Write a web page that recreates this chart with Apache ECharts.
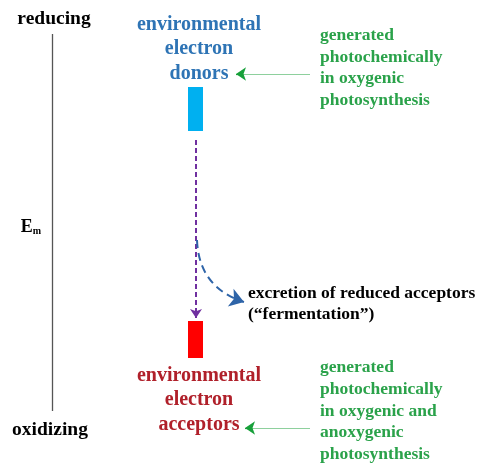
<!DOCTYPE html>
<html><head><meta charset="utf-8">
<script src="https://cdn.jsdelivr.net/npm/echarts@6/dist/echarts.min.js"></script>
<style>html,body{margin:0;padding:0;background:#fff}#c{width:481px;height:463px}</style>
</head><body><div id="c"></div>
<script>
// Diagram content (y = position on the E_m scale, reducing at top)
const boxNames = ['electron donors', 'electron acceptors'];
const boxTop = [87, 321];
const boxBottom = [131, 358];
const boxColors = ['#00b0f0', '#ff0000'];

const labelTexts = [
  'reducing',
  'oxidizing',
  'environmental\nelectron\ndonors',
  'environmental\nelectron\nacceptors',
  'generated\nphotochemically\nin oxygenic\nphotosynthesis',
  'generated\nphotochemically\nin oxygenic and\nanoxygenic\nphotosynthesis',
  'excretion of reduced acceptors\n(\u201cfermentation\u201d)'
];
const labelX = [54, 50, 199, 199, 320, 320, 248];
const labelY = [19, 430, 49, 400, 68, 411, 304];

const FAM = "'Times New Roman', 'Liberation Serif', 'DejaVu Serif', serif";
const labelStyles = [
  {size: 19.5, fill: '#000', align: 'center', lh: 24},
  {size: 19.5, fill: '#000', align: 'center', lh: 24},
  {size: 20, fill: '#2e74b5', align: 'center', lh: 24.5},
  {size: 20, fill: '#b0202a', align: 'center', lh: 24.5},
  {size: 17.5, fill: '#2aa24a', align: 'left', lh: 21.4},
  {size: 17.5, fill: '#2aa24a', align: 'left', lh: 21.7},
  {size: 17.5, fill: '#000', align: 'left', lh: 21}
];

const arrowFrom = [[52, 34], [196, 140], [310, 74], [310, 428], [197, 240], [243, 74], [252, 428]];
const arrowTo = [[52, 411], [196, 318], [240, 74], [249, 428], [244, 302], [236, 74], [245, 428]];

const chart = echarts.init(document.getElementById('c'), null, {renderer: 'canvas'});
chart.setOption({
  animation: false,
  grid: {left: 0, right: 0, top: 0, bottom: 0},
  xAxis: {type: 'value', min: 0, max: 481, show: false},
  yAxis: {type: 'value', min: 0, max: 463, inverse: true, show: false},
  series: [
    {
      type: 'custom',
      data: boxNames.map((n, i) => [188, boxTop[i], 203, boxBottom[i]]),
      renderItem: (params, api) => {
        const p1 = api.coord([api.value(0), api.value(1)]);
        const p2 = api.coord([api.value(2), api.value(3)]);
        return {type: 'rect', shape: {x: p1[0], y: p1[1], width: p2[0] - p1[0], height: p2[1] - p1[1]},
          style: {fill: boxColors[params.dataIndex]}};
      }
    },
    {
      type: 'lines',
      coordinateSystem: 'cartesian2d',
      symbol: ['none', 'arrow'],
      symbolSize: 9,
      lineStyle: {opacity: 1},
      z: 3,
      data: [
        {coords: [arrowFrom[0], arrowTo[0]], symbol: ['none', 'none'], lineStyle: {color: '#555', width: 1.3, type: 'solid', opacity: 1}},
        {coords: [arrowFrom[1], arrowTo[1]], symbolSize: [7, 9], lineStyle: {color: '#7030a0', width: 2, type: [5, 3], opacity: 1}},
        {coords: [arrowFrom[2], arrowTo[2]], symbol: ['none', 'none'], lineStyle: {color: '#8ed09d', width: 1.2, type: 'solid', opacity: 1}},
        {coords: [arrowFrom[3], arrowTo[3]], symbol: ['none', 'none'], lineStyle: {color: '#8ed09d', width: 1.2, type: 'solid', opacity: 1}},
        {coords: [arrowFrom[4], arrowTo[4]], symbolSize: [12, 14], lineStyle: {color: '#2e64a8', width: 2, type: [8, 5], curveness: -0.35, opacity: 1}},
        {coords: [arrowFrom[5], arrowTo[5]], symbolSize: [9, 10], lineStyle: {color: '#17a03a', width: 1.2, type: 'solid', opacity: 1}},
        {coords: [arrowFrom[6], arrowTo[6]], symbolSize: [9, 10], lineStyle: {color: '#17a03a', width: 1.2, type: 'solid', opacity: 1}}
      ]
    },
    {
      type: 'custom',
      data: labelTexts.map((t, i) => [labelX[i], labelY[i]]),
      renderItem: (params, api) => {
        const i = params.dataIndex;
        const p = api.coord([api.value(0), api.value(1)]);
        const s = labelStyles[i];
        return {type: 'text', x: p[0], y: p[1],
          style: {text: labelTexts[i], fontFamily: FAM, fontWeight: 'bold', fontSize: s.size,
            fill: s.fill, align: s.align, verticalAlign: 'middle', lineHeight: s.lh}};
      },
      z: 4
    },
    {
      type: 'custom',
      data: [[31, 227]],
      renderItem: (params, api) => {
        const p = api.coord([api.value(0), api.value(1)]);
        return {type: 'text', x: p[0], y: p[1],
          style: {text: '{e|E}{m|m}', align: 'center', verticalAlign: 'middle',
            rich: {e: {fontFamily: FAM, fontWeight: 'bold', fontSize: 18, color: '#000'},
                   m: {fontFamily: FAM, fontWeight: 'bold', fontSize: 10, color: '#000', padding: [8, 0, 0, 0]}}}};
      },
      z: 4
    }
  ]
});
</script></body></html>
